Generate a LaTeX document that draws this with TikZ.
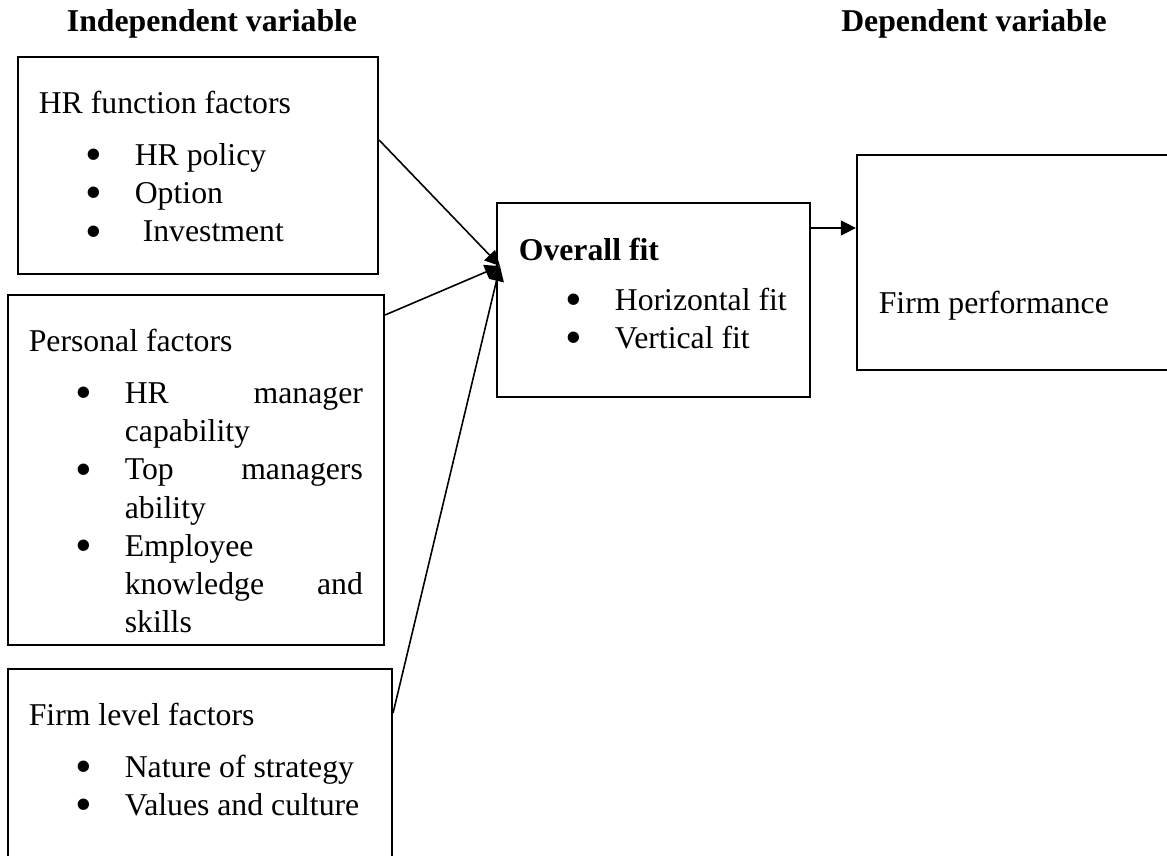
\documentclass[tikz,border=0pt]{standalone}
\usepackage{fontspec}
\setmainfont{Liberation Serif}
\usetikzlibrary{arrows.meta,fit,calc}

\newcommand{\bigdot}{\smash{\raisebox{-1.9pt}{\scalebox{1.5}{\textbullet}}}}
\newcommand{\blt}[1]{\hspace*{20.8pt}\makebox[0pt]{\bigdot}\hspace*{15.5pt}#1}
\newcommand{\cnt}[1]{\hspace*{36.3pt}#1}

\begin{document}
\begin{tikzpicture}[x=0.378pt,y=-0.378pt,>={Triangle[length=5.7pt,width=5.6pt]},
                    semithick]
  \tikzstyle{box}=[draw,line width=0.8pt,inner sep=0pt]
  \tikzstyle{txt}=[inner sep=0pt,anchor=north west,align=left,
                   font=\fontsize{12}{14.4}\selectfont]
  \tikzstyle{head}=[inner sep=0pt,font=\fontsize{12}{14.4}\selectfont\bfseries]
  \tikzstyle{link}=[->,line width=0.6pt]

  \useasboundingbox (0,0) rectangle (1167,856);

  \node[head] (indep) at (212,24) {Independent variable};
  \node[head] (dep)   at (974,24) {Dependent variable};

  \node[box, fit={(18,57) (378,274)}]   (hrf)  {};
  \node[box, fit={(8,295) (384,645)}]   (pers) {};
  \node[box, fit={(8,669) (392,862)}]   (firm) {};
  \node[box, fit={(497,203) (810,397)}] (ovf)  {};
  \node[box, fit={(857,155) (1172,370)}] (fp)  {};

  \node[txt] (hrfT) at (38,90) {HR function factors\\[5.5pt]
    \blt{HR policy}\\ \blt{Option}\\ \blt{\hspace*{3pt}Investment}};
  \node[txt] (persT) at (28,328) {Personal factors\\[5.5pt]
    \blt{\makebox[90pt][s]{HR manager}}\\ \cnt{capability}\\
    \blt{\makebox[90pt][s]{Top managers}}\\ \cnt{ability}\\
    \blt{Employee}\\ \cnt{\makebox[90pt][s]{knowledge and}}\\ \cnt{skills}};
  \node[txt] (firmT) at (28,702) {Firm level factors\\[5.5pt]
    \blt{Nature of strategy}\\ \blt{Values and culture}};
  \node[txt] (ovfT) at (518,237) {\textbf{Overall fit}\\[4.5pt]
    \blt{Horizontal fit}\\ \blt{Vertical fit}};
  \node[txt] (fpT) at (878,290) {Firm performance};

  \coordinate (join) at (500,266);
  \draw[link] ($(hrf.east)+(0,-25.5)$) -- (join);
  \draw[link] ($(pers.east)+(0,-155)$) -- (join);
  \draw[link] ($(firm.east)+(0,-52.5)$) -- (join);
  \draw[link] ($(ovf.east)+(0,-72)$) coordinate (dOut) -- (dOut -| fp.west);
\end{tikzpicture}
\end{document}
